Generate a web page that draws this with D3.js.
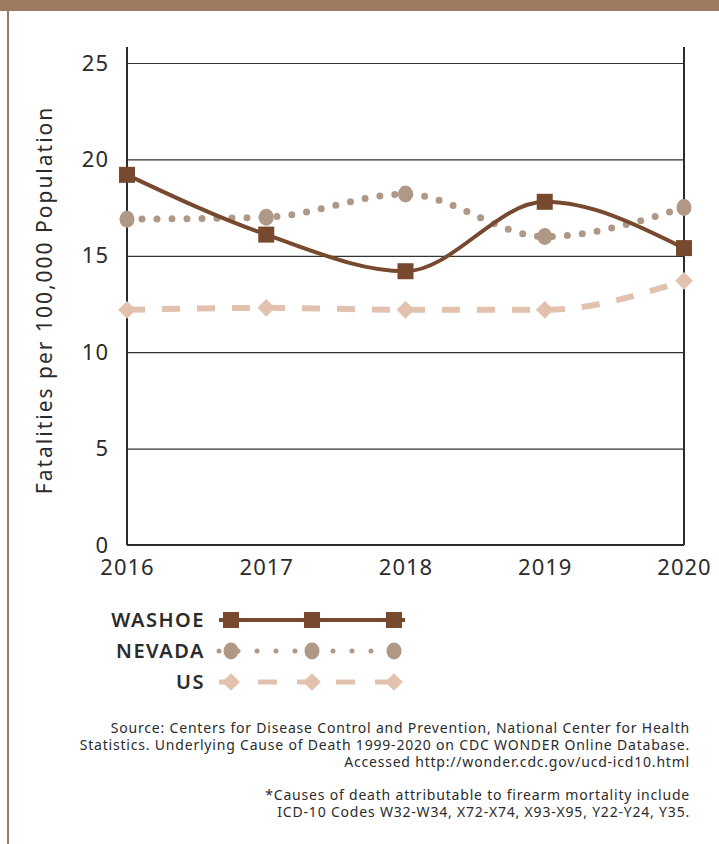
<!DOCTYPE html>
<html>
<head>
<meta charset="utf-8">
<script src="https://cdn.jsdelivr.net/npm/d3@7"></script>
<style>
  body { margin: 0; background: #fff; }
  text { font-family: "Noto Sans", sans-serif; fill: #2b2b2b; }
</style>
</head>
<body>
<div id="chart-area"></div>
<script>
// data
const years = [2016, 2017, 2018, 2019, 2020];
const washoe = [19.2, 16.1, 14.2, 17.8, 15.4];
const nevada = [16.9, 17.0, 18.2, 16.0, 17.5];
const us = [12.2, 12.3, 12.2, 12.2, 13.7];
const yTicks = [0, 5, 10, 15, 20, 25];
const seriesNames = ['WASHOE', 'NEVADA', 'US'];
const sourceLines = [
  'Source: Centers for Disease Control and Prevention, National Center for Health',
  'Statistics. Underlying Cause of Death 1999-2020 on CDC WONDER Online Database.',
  'Accessed http://wonder.cdc.gov/ucd-icd10.html'
];
const noteLines = [
  '*Causes of death attributable to firearm mortality include',
  'ICD-10 Codes W32-W34, X72-X74, X93-X95, Y22-Y24, Y35.'
];

const W = 719, H = 844;
const margin = { top: 63, left: 127, right: 35, bottom: 299 };
const width = W - margin.left - margin.right;
const height = H - margin.top - margin.bottom;

const colours = { WASHOE: '#774a2f', NEVADA: '#b09886', US: '#e2c1ae' };

const svg = d3.select('#chart-area').append('svg')
  .attr('width', W)
  .attr('height', H);

// frame: top band and left rule
svg.append('rect').attr('x', 0).attr('y', 0).attr('width', W).attr('height', 11).attr('fill', '#9d7a60');
svg.append('rect').attr('x', 7).attr('y', 11).attr('width', 2).attr('height', H - 11).attr('fill', '#9d7a60');

const x = d3.scalePoint()
  .domain(years)
  .range([0, width]);

const y = d3.scaleLinear()
  .domain([0, 25])
  .range([height, 0]);

const g = svg.append('g')
  .attr('transform', `translate(${margin.left}, ${margin.top})`);

// gridlines
g.append('g')
  .call(d3.axisLeft(y).tickValues(yTicks.slice(1)).tickSize(-width).tickFormat(''))
  .call(a => a.select('.domain').remove())
  .selectAll('line')
  .attr('stroke', '#333')
  .attr('stroke-width', 1.2);

// left and right vertical rules, bottom rule
g.append('line').attr('x1', 0).attr('x2', 0).attr('y1', -16).attr('y2', height)
  .attr('stroke', '#2b2b2b').attr('stroke-width', 2);
g.append('line').attr('x1', width).attr('x2', width).attr('y1', -16).attr('y2', height)
  .attr('stroke', '#2b2b2b').attr('stroke-width', 2);
g.append('line').attr('x1', 0).attr('x2', width).attr('y1', height).attr('y2', height)
  .attr('stroke', '#2b2b2b').attr('stroke-width', 2);

// y tick labels
const yAxis = g.append('g')
  .call(d3.axisLeft(y).tickValues(yTicks).tickSize(0).tickPadding(18));
yAxis.select('.domain').remove();
yAxis.selectAll('text')
  .style('font-family', '"Noto Sans", sans-serif')
  .style('font-size', '22px')
  .style('letter-spacing', '1px')
  .attr('fill', '#2b2b2b');

// x tick labels
const xAxis = g.append('g')
  .attr('transform', `translate(0, ${height})`)
  .call(d3.axisBottom(x).tickSize(0).tickPadding(14));
xAxis.select('.domain').remove();
xAxis.selectAll('text')
  .style('font-family', '"Noto Sans", sans-serif')
  .style('font-size', '22px')
  .style('letter-spacing', '1px')
  .attr('fill', '#2b2b2b');

// y axis label
g.append('text')
  .attr('x', -(300 - margin.top))
  .attr('y', -75)
  .attr('transform', 'rotate(-90)')
  .attr('text-anchor', 'middle')
  .style('font-size', '21px')
  .style('letter-spacing', '2px')
  .text('Fatalities per 100,000 Population');

const line = d3.line()
  .x((d, i) => x(years[i]))
  .y(d => y(d))
  .curve(d3.curveMonotoneX);

const styles = {
  WASHOE: { width: 4, dash: null, cap: 'butt' },
  NEVADA: { width: 7, dash: '0 15', cap: 'round' },
  US: { width: 6, dash: '18 17', cap: 'butt' }
};

const diamond = d3.symbol().type(d3.symbolDiamond2).size(200);

function drawMarker(sel, name, cx, cy) {
  if (name === 'WASHOE') {
    sel.append('rect')
      .attr('x', cx - 8).attr('y', cy - 8)
      .attr('width', 16).attr('height', 16)
      .attr('fill', colours[name]);
  } else if (name === 'NEVADA') {
    sel.append('ellipse')
      .attr('cx', cx).attr('cy', cy)
      .attr('rx', 7.5).attr('ry', 8.5)
      .attr('fill', colours[name]);
  } else {
    sel.append('path')
      .attr('d', diamond())
      .attr('transform', `translate(${cx}, ${cy})`)
      .attr('fill', colours[name]);
  }
}

const seriesData = { WASHOE: washoe, NEVADA: nevada, US: us };

// draw back to front: US, NEVADA, WASHOE
['US', 'NEVADA', 'WASHOE'].forEach(name => {
  const vals = seriesData[name];
  const st = styles[name];
  g.append('path')
    .datum(vals)
    .attr('d', line)
    .attr('fill', 'none')
    .attr('stroke', colours[name])
    .attr('stroke-width', st.width)
    .attr('stroke-linecap', st.cap)
    .attr('stroke-dasharray', st.dash);
  const mg = g.append('g');
  vals.forEach((v, i) => drawMarker(mg, name, x(years[i]), y(v)));
});

// legend
const legend = svg.append('g')
  .attr('transform', 'translate(207, 620)');

const legendStyles = {
  WASHOE: { width: 4, dash: null, cap: 'butt' },
  NEVADA: { width: 5, dash: '0 19', cap: 'round' },
  US: { width: 5, dash: '19 20', cap: 'butt' }
};

seriesNames.forEach((name, i) => {
  const row = legend.append('g')
    .attr('transform', `translate(0, ${i * 31})`);
  row.append('text')
    .attr('x', -2)
    .attr('y', 7)
    .attr('text-anchor', 'end')
    .style('font-size', '20px')
    .style('font-weight', 600)
    .style('letter-spacing', '1.5px')
    .attr('fill', '#222')
    .text(name);
  const st = legendStyles[name];
  row.append('line')
    .attr('x1', 12).attr('x2', 198)
    .attr('y1', 0).attr('y2', 0)
    .attr('stroke', colours[name])
    .attr('stroke-width', st.width)
    .attr('stroke-linecap', st.cap)
    .attr('stroke-dasharray', st.dash);
  [24, 105, 187].forEach(px => drawMarker(row, name, px, 0));
});

// source notes
const notes = svg.append('g')
  .attr('transform', 'translate(690, 733)');

sourceLines.forEach((t, i) => {
  notes.append('text')
    .attr('y', i * 17)
    .attr('text-anchor', 'end')
    .style('font-size', '14px')
    .style('letter-spacing', '0.8px')
    .text(t);
});
noteLines.forEach((t, i) => {
  notes.append('text')
    .attr('y', 67 + i * 17)
    .attr('text-anchor', 'end')
    .style('font-size', '14px')
    .style('letter-spacing', '0.8px')
    .text(t);
});
</script>
</body>
</html>
